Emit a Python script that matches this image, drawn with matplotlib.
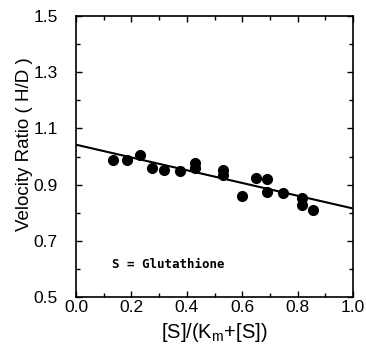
import matplotlib
matplotlib.use("Agg")
import matplotlib.pyplot as plt
from matplotlib.ticker import MultipleLocator
import numpy as np

x_vals = [0.132, 0.185, 0.232, 0.275, 0.316, 0.377, 0.430, 0.430, 0.529, 0.529,
          0.598, 0.651, 0.690, 0.690, 0.748, 0.816, 0.816, 0.856]
y_vals = [0.988, 0.989, 1.004, 0.960, 0.953, 0.947, 0.978, 0.958, 0.952, 0.934,
          0.858, 0.925, 0.919, 0.874, 0.869, 0.853, 0.827, 0.808]
fit_intercept = 1.042
fit_slope = -0.227
x_ticks = [0.0, 0.2, 0.4, 0.6, 0.8, 1.0]
y_ticks = [0.5, 0.7, 0.9, 1.1, 1.3, 1.5]

plt.rcParams['font.family'] = ['Liberation Sans', 'DejaVu Sans']

fig = plt.figure(figsize=(3.66, 3.46), dpi=100)
ax = fig.add_axes([76/366, 1-297/346, 277/366, 281/346])

lx = np.array([0.0, 1.0])
ax.plot(lx, fit_intercept + fit_slope*lx, color='black', lw=1.5)
ax.plot(x_vals, y_vals, 'o', color='black', ms=7)

ax.set_xlim(0, 1)
ax.set_ylim(0.5, 1.5)
ax.set_xticks(x_ticks)
ax.set_xticklabels([f'{v:.1f}' for v in x_ticks])
ax.set_yticks(y_ticks)
ax.set_yticklabels([f'{v:.1f}' for v in y_ticks])
ax.xaxis.set_minor_locator(MultipleLocator(0.1))
ax.yaxis.set_minor_locator(MultipleLocator(0.1))
ax.tick_params(which='both', direction='in', top=True, right=True, width=1)
ax.tick_params(which='major', length=4, labelsize=12.5)
ax.tick_params(which='minor', length=3)
ax.tick_params(axis='x', which='major', pad=2)
ax.tick_params(axis='y', which='major', pad=13)
for s in ax.spines.values():
    s.set_linewidth(1.2)

ax.set_xlabel('[S]/(K$_\\mathregular{m}$+[S])', fontsize=14.5)
ax.xaxis.set_label_coords(0.5, -(332-297)/281, transform=ax.transAxes)
ax.xaxis.label.set_va('center')
ax.set_ylabel('Velocity Ratio ( H/D )', fontsize=13.5)
ax.yaxis.set_label_coords(-(76-25)/277, (297-144)/281, transform=ax.transAxes)
ax.yaxis.label.set_va('center')
ax.text(0.13, 0.614, 'S = Glutathione', fontsize=9, family='DejaVu Sans Mono',
        fontweight='bold', va='center')

fig.savefig('out.png', dpi=100)
